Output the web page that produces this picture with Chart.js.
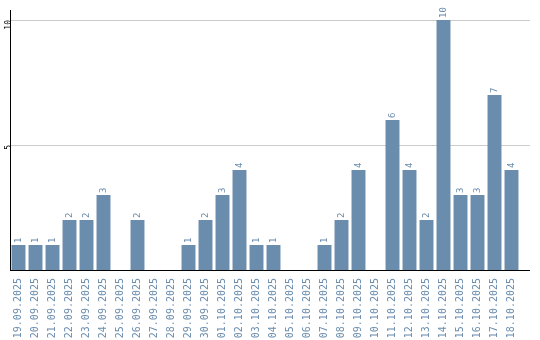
<!DOCTYPE html>
<html>
<head>
<meta charset="utf-8">
<script src="https://cdn.jsdelivr.net/npm/chart.js@4/dist/chart.umd.min.js"></script>
<style>
  html, body { margin: 0; padding: 0; background: #fff; }
  #wrap { width: 540px; height: 340px; }
</style>
</head>
<body>
<div id="wrap"><canvas id="chart" width="540" height="340"></canvas></div>
<script>
const days = ['19.09.2025','20.09.2025','21.09.2025','22.09.2025','23.09.2025','24.09.2025','25.09.2025','26.09.2025','27.09.2025','28.09.2025',
  '29.09.2025','30.09.2025','01.10.2025','02.10.2025','03.10.2025','04.10.2025','05.10.2025','06.10.2025','07.10.2025','08.10.2025',
  '09.10.2025','10.10.2025','11.10.2025','12.10.2025','13.10.2025','14.10.2025','15.10.2025','16.10.2025','17.10.2025','18.10.2025'];
const counts = [1,1,1,2,2,3,0,2,0,0, 1,2,3,4,1,1,0,0,1,2, 4,0,6,4,2,10,3,3,7,4];
const yTicks = [5, 10];

const barColor = '#6a8cad';

// value labels above bars, rotated like the axis labels
const barLabels = {
  id: 'barLabels',
  afterDatasetsDraw(chart) {
    const ctx = chart.ctx;
    const meta = chart.getDatasetMeta(0);
    ctx.save();
    ctx.font = '9px "DejaVu Sans Mono"';
    ctx.fillStyle = barColor;
    ctx.textAlign = 'left';
    ctx.textBaseline = 'middle';
    meta.data.forEach((bar, i) => {
      const v = counts[i];
      if (!v) return;
      ctx.save();
      ctx.translate(bar.x, bar.y - 2);
      ctx.rotate(-Math.PI / 2);
      ctx.fillText(String(v), 0, 0);
      ctx.restore();
    });
    ctx.restore();
  }
};

// grid and base line run a bit past the last bar
const lineTail = {
  id: 'lineTail',
  beforeDatasetsDraw(chart) {
    const { ctx, chartArea, scales } = chart;
    const x0 = chartArea.right, x1 = chartArea.right + 10;
    ctx.save();
    ctx.lineWidth = 1;
    ctx.strokeStyle = '#cccccc';
    yTicks.forEach(v => {
      const y = Math.round(scales.y.getPixelForValue(v)) + 0.5;
      ctx.beginPath(); ctx.moveTo(x0, y); ctx.lineTo(x1, y); ctx.stroke();
    });
    ctx.strokeStyle = '#000';
    const yb = Math.round(scales.y.getPixelForValue(0)) + 0.5;
    ctx.beginPath(); ctx.moveTo(x0, yb); ctx.lineTo(x1, yb); ctx.stroke();
    ctx.restore();
  }
};

new Chart(document.getElementById('chart'), {
  type: 'bar',
  data: { labels: days, datasets: [{ data: counts, backgroundColor: barColor, barPercentage: 0.82, categoryPercentage: 1 }] },
  plugins: [barLabels, lineTail],
  options: {
    responsive: false,
    animation: false,
    layout: { padding: { top: 10, right: 20, left: 0, bottom: 0 } },
    plugins: { legend: { display: false }, tooltip: { enabled: false } },
    scales: {
      x: {
        afterFit: axis => { axis.height = 70; },
        grid: { display: false },
        border: { color: '#000', width: 1 },
        ticks: { color: barColor, font: { family: 'DejaVu Sans Mono', size: 10 }, minRotation: 90, maxRotation: 90, padding: 0, autoSkip: false }
      },
      y: {
        min: 0, max: 10.4,
        afterBuildTicks: axis => { axis.ticks = yTicks.map(v => ({ value: v })); },
        afterFit: axis => { axis.width = 10; },
        grid: { color: '#cccccc', drawTicks: false },
        border: { color: '#000', width: 1 },
        ticks: { color: '#000', font: { family: 'DejaVu Sans Mono', size: 8 }, minRotation: 90, maxRotation: 90, padding: 1 }
      }
    }
  }
});
</script>
</body>
</html>
